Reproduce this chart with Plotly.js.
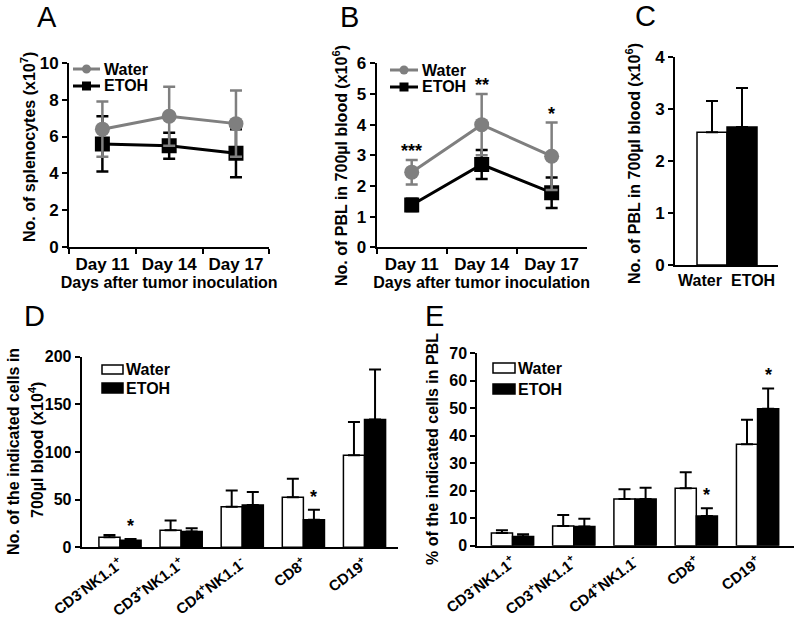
<!DOCTYPE html>
<html>
<head>
<meta charset="utf-8">
<script src="https://cdn.plot.ly/plotly-3.0.1.min.js"></script>
<style>html,body{margin:0;padding:0;background:#fff;}#chart{width:800px;height:621px;}</style>
</head>
<body>
<div id="chart"></div>
<script>
// ---- Data ----
const days = ['Day 11', 'Day 14', 'Day 17'];
const aWater = [6.4, 7.1, 6.7];
const aWaterErr = [1.5, 1.6, 1.8];
const aEtoh = [5.6, 5.5, 5.1];
const aEtohErr = [1.5, 0.7, 1.3];

const bWater = [2.45, 4.0, 2.97];
const bWaterErr = [0.4, 1.0, 1.1];
const bEtoh = [1.38, 2.7, 1.78];
const bEtohErr = [0.2, 0.47, 0.5];
const bSig = ['***', '**', '*'];

const cGroups = ['Water', 'ETOH'];
const cValues = [2.55, 2.65];
const cErr = [0.6, 0.75];

const cells = ['CD3<sup>-</sup>NK1.1<sup>+</sup>', 'CD3<sup>+</sup>NK1.1<sup>+</sup>', 'CD4<sup>+</sup>NK1.1<sup>-</sup>', 'CD8<sup>+</sup>', 'CD19<sup>+</sup>'];
const dWater = [10.5, 18, 42.5, 52.5, 96.5];
const dWaterErr = [2.5, 10, 17, 19.5, 35];
const dEtoh = [7.5, 16.5, 44.5, 29, 134];
const dEtohErr = [1.2, 3.5, 13.5, 10.5, 52.5];
const dSig = ['*', '', '', '*', ''];

const eWater = [4.6, 7.2, 17, 20.9, 36.9];
const eWaterErr = [1.0, 4.0, 3.5, 5.8, 8.9];
const eEtoh = [3.3, 7.0, 17, 10.8, 49.8];
const eEtohErr = [0.9, 2.8, 4.1, 2.8, 7.4];
const eSig = ['', '', '', '*', '*'];

// ---- Styles ----
const GRAY = '#7f7f7f';
const FONT = 'Liberation Sans, Arial, sans-serif';
const W = 800, H = 621;
const px = v => v / W, py = v => 1 - v / H;
const zeros = n => new Array(n).fill(0);
const bold = (size) => ({size: size, family: FONT, color: '#000', weight: 'bold'});

function lineTrace(x, y, err, name, color, symbol, xa, ya) {
  return {
    type: 'scatter', mode: 'lines+markers', x: x, y: y, name: name,
    xaxis: xa, yaxis: ya, showlegend: false,
    line: {color: color, width: 3},
    marker: {color: color, size: 15, symbol: symbol},
    error_y: {type: 'data', array: err, visible: true, color: color, thickness: 2.5, width: 6}
  };
}
function barTrace(x, y, err, name, fill, xa, ya) {
  return {
    type: 'bar', x: x, y: y, name: name, xaxis: xa, yaxis: ya, showlegend: false,
    marker: {color: fill, line: {color: '#000', width: 1.5}},
    error_y: {type: 'data', symmetric: false, array: err, arrayminus: zeros(y.length), visible: true, color: '#000', thickness: 2, width: 6}
  };
}

const traces = [
  lineTrace(days, aEtoh, aEtohErr, 'ETOH', '#000', 'square', 'x', 'y'),
  lineTrace(days, aWater, aWaterErr, 'Water', GRAY, 'circle', 'x', 'y'),
  lineTrace(days, bEtoh, bEtohErr, 'ETOH', '#000', 'square', 'x2', 'y2'),
  lineTrace(days, bWater, bWaterErr, 'Water', GRAY, 'circle', 'x2', 'y2'),
  {
    type: 'bar', x: cGroups, y: cValues, width: [1, 1], xaxis: 'x3', yaxis: 'y3', showlegend: false,
    marker: {color: ['#fff', '#000'], line: {color: '#000', width: 1.5}},
    error_y: {type: 'data', symmetric: false, array: cErr, arrayminus: zeros(2), visible: true, color: '#000', thickness: 2, width: 6}
  },
  barTrace(cells, dWater, dWaterErr, 'Water', '#fff', 'x4', 'y4'),
  barTrace(cells, dEtoh, dEtohErr, 'ETOH', '#000', 'x4', 'y4'),
  barTrace(cells, eWater, eWaterErr, 'Water', '#fff', 'x5', 'y5'),
  barTrace(cells, eEtoh, eEtohErr, 'ETOH', '#000', 'x5', 'y5')
];

function yax(domain, range, dtick, anchor, fs) {
  return {
    domain: domain, range: range, dtick: dtick, anchor: anchor,
    showline: true, linecolor: '#000', linewidth: 2,
    ticks: 'outside', ticklen: 5, tickwidth: 2, tickcolor: '#000',
    showgrid: false, zeroline: false, fixedrange: true,
    tickfont: bold(fs)
  };
}
function xax(domain, anchor, opts) {
  return Object.assign({
    domain: domain, anchor: anchor, type: 'category',
    showline: true, linecolor: '#000', linewidth: 2,
    ticks: 'outside', ticklen: 5, tickwidth: 2, tickcolor: '#000',
    showgrid: false, zeroline: false, fixedrange: true,
    tickfont: bold(17)
  }, opts);
}

const annotations = [];
const shapes = [];

// Panel letters
const letters = [['A', 47, 17], ['B', 349, 17], ['C', 645, 16], ['D', 34, 316], ['E', 434, 316]];
letters.forEach(l => annotations.push({
  text: l[0], xref: 'paper', yref: 'paper', x: px(l[1]), y: py(l[2]),
  xanchor: 'center', yanchor: 'middle', showarrow: false,
  font: {size: 29, family: FONT, color: '#000', weight: 'normal'}
}));

// Y-axis titles (rotated)
const yTitles = [
  ['No. of splenocytes (x10<sup>7</sup>)', 28, 147],
  ['No. of PBL in 700µl blood (x10<sup>6</sup>)', 340, 166],
  ['No. of PBL in 700µl blood (x10<sup>6</sup>)', 633, 164],
  ['No. of the indicated cells in', 13, 452],
  ['700µl blood (x10<sup>4</sup>)', 36, 450],
  ['% of the indicated cells in PBL', 432, 449]
];
yTitles.forEach(t => annotations.push({
  text: t[0], xref: 'paper', yref: 'paper', x: px(t[1]), y: py(t[2]),
  xanchor: 'center', yanchor: 'middle', textangle: -90, showarrow: false, font: bold(16)
}));

// Panel C group labels (wider than their bars, spread apart as in the figure)
const cLabelShift = [-0.4, 0.37];
cGroups.forEach((g, i) => annotations.push({
  text: g, xref: 'x3', yref: 'paper', x: i + cLabelShift[i], y: py(280),
  xanchor: 'center', yanchor: 'middle', showarrow: false, font: bold(16)
}));

// Significance marks
bSig.forEach((s, i) => annotations.push({
  text: s, xref: 'x2', yref: 'y2', x: i, y: bWater[i] + bWaterErr[i], yanchor: 'bottom', yshift: -3,
  showarrow: false, font: bold(18)
}));
dSig.forEach((s, i) => { if (s) annotations.push({
  text: s, xref: 'x4', yref: 'y4', x: i + 0.1725, y: dEtoh[i] + dEtohErr[i], yanchor: 'bottom', yshift: 1,
  showarrow: false, font: bold(18)
}); });
eSig.forEach((s, i) => { if (s) annotations.push({
  text: s, xref: 'x5', yref: 'y5', x: i + 0.1725, y: eEtoh[i] + eEtohErr[i], yanchor: 'bottom', yshift: 1,
  showarrow: false, font: bold(18)
}); });

// Legends (drawn as keys + labels)
function lineKey(x0, x1, y, color, symbol, label) {
  shapes.push({type: 'line', xref: 'paper', yref: 'paper', x0: px(x0), x1: px(x1), y0: py(y), y1: py(y),
    line: {color: color, width: 3}});
  const c = (x0 + x1) / 2, r = 4.5;
  shapes.push({type: symbol === 'circle' ? 'circle' : 'rect', xref: 'paper', yref: 'paper',
    x0: px(c - r), x1: px(c + r), y0: py(y + r), y1: py(y - r),
    fillcolor: color, line: {color: color, width: 0}});
  annotations.push({text: label, xref: 'paper', yref: 'paper', x: px(x1 + 2), y: py(y),
    xanchor: 'left', yanchor: 'middle', showarrow: false, font: bold(16)});
}
function boxKey(x0, x1, y0, y1, fill, label) {
  shapes.push({type: 'rect', xref: 'paper', yref: 'paper', x0: px(x0), x1: px(x1), y0: py(y1), y1: py(y0),
    fillcolor: fill, line: {color: '#000', width: 1.5}});
  annotations.push({text: label, xref: 'paper', yref: 'paper', x: px(x1 + 1), y: py((y0 + y1) / 2),
    xanchor: 'left', yanchor: 'middle', showarrow: false, font: bold(16)});
}
lineKey(73, 100, 69, GRAY, 'circle', 'Water');
lineKey(73, 100, 86, '#000', 'square', 'ETOH');
lineKey(390, 418, 70, GRAY, 'circle', 'Water');
lineKey(390, 418, 87, '#000', 'square', 'ETOH');
boxKey(102, 123, 365, 374, '#fff', 'Water');
boxKey(102, 123, 383, 393, '#000', 'ETOH');
boxKey(493, 515, 363, 373, '#fff', 'Water');
boxKey(493, 515, 384, 394, '#000', 'ETOH');

const layout = {
  width: W, height: H, autosize: false,
  margin: {l: 0, r: 0, t: 0, b: 0},
  paper_bgcolor: '#fff', plot_bgcolor: 'rgba(0,0,0,0)',
  font: {family: FONT, color: '#000', weight: 'bold'},
  showlegend: false,
  barmode: 'group', bargap: 0.31, bargroupgap: 0,
  xaxis: xax([0.08625, 0.3367], 'y', {tickson: 'boundaries', range: [-0.5, 2.5],
    title: {text: 'Days after tumor inoculation', font: bold(16), standoff: 2}}),
  yaxis: yax([0.6018, 0.8990], [0, 10], 2, 'x', 17),
  xaxis2: xax([0.4709, 0.7333], 'y2', {tickson: 'boundaries', range: [-0.5, 2.5],
    title: {text: 'Days after tumor inoculation', font: bold(16), standoff: 2}}),
  yaxis2: yax([0.6018, 0.8980], [0, 6], 1, 'x2', 17),
  xaxis3: xax([0.84375, 0.9729], 'y3', {range: [-1.233, 2.21], ticks: '', showticklabels: false}),
  yaxis3: yax([0.5733, 0.9087], [0, 4], 1, 'x3', 17),
  xaxis4: xax([0.1021, 0.4975], 'y4', {range: [-0.627, 4.548], ticks: '', tickangle: -37, tickfont: bold(15)}),
  yaxis4: yax([0.1187, 0.4256], [0, 200], 50, 'x4', 16),
  xaxis5: xax([0.5966, 0.9929], 'y5', {range: [-0.575, 4.6], ticks: '', tickangle: -37, tickfont: bold(15)}),
  yaxis5: yax([0.1213, 0.4311], [0, 70], 10, 'x5', 16),
  annotations: annotations,
  shapes: shapes
};

Plotly.newPlot('chart', traces, layout, {displayModeBar: false, staticPlot: true});
</script>
</body>
</html>
